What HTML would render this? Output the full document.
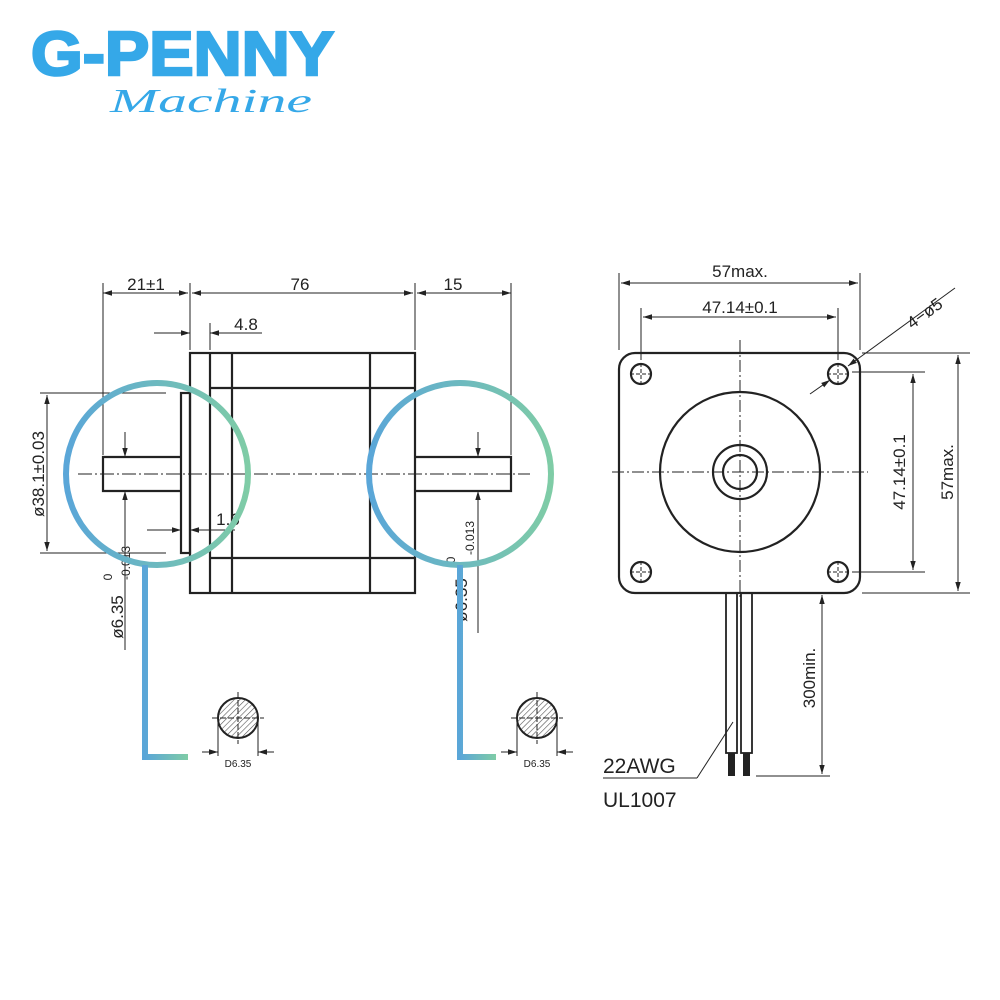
<!DOCTYPE html>
<html><head><meta charset="utf-8"><style>
html,body{margin:0;padding:0;background:#fff;width:1000px;height:1000px;overflow:hidden}
svg{display:block}
text{font-family:"Liberation Sans",sans-serif;fill:#222}
</style></head><body>
<svg width="1000" height="1000" viewBox="0 0 1000 1000" xmlns="http://www.w3.org/2000/svg">
<defs>
<linearGradient id="g" x1="0" x2="1" y1="0" y2="0"><stop offset="0" stop-color="#5aa6d8"/><stop offset="1" stop-color="#7fcca6"/></linearGradient>
<marker id="a" viewBox="0 0 10 10" refX="10" refY="5" markerWidth="9" markerHeight="9" orient="auto-start-reverse" markerUnits="userSpaceOnUse"><path d="M0,2 L10,5 L0,8z" fill="#222"/></marker>
<pattern id="h" width="4" height="4" patternUnits="userSpaceOnUse" patternTransform="rotate(45)"><rect width="4" height="4" fill="#fff"/><line x1="0" y1="0" x2="0" y2="4" stroke="#555" stroke-width="1.2"/></pattern>
</defs>
<text x="31" y="75" font-size="62" font-weight="bold" style="fill:#35a8e8;stroke:#35a8e8;stroke-width:2.5" textLength="303" lengthAdjust="spacingAndGlyphs">G-PENNY</text>
<text x="110" y="112" font-size="34" font-style="italic" style="fill:#35a8e8;font-family:'Liberation Serif',serif" textLength="202" lengthAdjust="spacingAndGlyphs">Machine</text>

<g stroke="#222" fill="none" stroke-width="2.2">
<rect x="190" y="353" width="225" height="240"/>
<line x1="210" y1="353" x2="210" y2="593"/>
<line x1="232" y1="353" x2="232" y2="593"/>
<line x1="370" y1="353" x2="370" y2="593"/>
<line x1="210" y1="388" x2="415" y2="388"/>
<line x1="210" y1="558" x2="415" y2="558"/>
<rect x="181" y="393" width="9" height="160"/>
<path d="M181,457 H103 V491 H181"/>
<path d="M415,457 H511 V491 H415"/>
</g>
<g stroke="#222" fill="none" stroke-width="1">
<line x1="78" y1="474" x2="530" y2="474" stroke-dasharray="14,3,2,3"/>
<line x1="103" y1="283" x2="103" y2="455"/>
<line x1="190" y1="283" x2="190" y2="350"/>
<line x1="415" y1="283" x2="415" y2="350"/>
<line x1="511" y1="283" x2="511" y2="455"/>
<line x1="103" y1="293" x2="188" y2="293" marker-start="url(#a)" marker-end="url(#a)"/>
<line x1="192" y1="293" x2="413" y2="293" marker-start="url(#a)" marker-end="url(#a)"/>
<line x1="417" y1="293" x2="511" y2="293" marker-start="url(#a)" marker-end="url(#a)"/>
<line x1="210" y1="323" x2="210" y2="350"/>
<line x1="154" y1="333" x2="190" y2="333" marker-end="url(#a)"/>
<line x1="262" y1="333" x2="210" y2="333" marker-end="url(#a)"/>
<line x1="40" y1="393" x2="166" y2="393"/>
<line x1="40" y1="553" x2="166" y2="553"/>
<line x1="47" y1="395" x2="47" y2="551" marker-start="url(#a)" marker-end="url(#a)"/>
<line x1="125" y1="432" x2="125" y2="457" marker-end="url(#a)"/>
<line x1="125" y1="650" x2="125" y2="491" marker-end="url(#a)"/>
<line x1="478" y1="432" x2="478" y2="457" marker-end="url(#a)"/>
<line x1="478" y1="633" x2="478" y2="491" marker-end="url(#a)"/>
<line x1="147" y1="530" x2="181" y2="530" marker-end="url(#a)"/>
<line x1="235" y1="530" x2="190" y2="530" marker-end="url(#a)"/>
</g>
<text x="146" y="290" font-size="17" text-anchor="middle">21±1</text>
<text x="300" y="290" font-size="17" text-anchor="middle">76</text>
<text x="453" y="290" font-size="17" text-anchor="middle">15</text>
<text x="246" y="330" font-size="17" text-anchor="middle">4.8</text>
<text x="228" y="525" font-size="17" text-anchor="middle">1.6</text>
<text transform="translate(44,474) rotate(-90)" font-size="17" text-anchor="middle">ø38.1±0.03</text>
<text transform="translate(123,617) rotate(-90)" font-size="17" text-anchor="middle">ø6.35</text>
<text transform="translate(112,577) rotate(-90)" font-size="12" text-anchor="middle">0</text>
<text transform="translate(130,563) rotate(-90)" font-size="12" text-anchor="middle">-0.013</text>
<text transform="translate(467,600) rotate(-90)" font-size="17" text-anchor="middle">ø6.35</text>
<text transform="translate(455,560) rotate(-90)" font-size="12" text-anchor="middle">0</text>
<text transform="translate(474,538) rotate(-90)" font-size="12" text-anchor="middle">-0.013</text>

<g fill="none" stroke="url(#g)" stroke-width="6">
<circle cx="157" cy="474" r="91"/>
<circle cx="460" cy="474" r="91"/>
</g>
<path d="M145,565 V757 H188" fill="none" stroke="url(#g)" stroke-width="6"/>
<path d="M460,565 V757 H496" fill="none" stroke="url(#g)" stroke-width="6"/>

<g stroke="#222" stroke-width="1">
<circle cx="238" cy="718" r="20" fill="url(#h)" stroke-width="2"/>
<line x1="212" y1="718" x2="264" y2="718" stroke-dasharray="6,2"/>
<line x1="238" y1="692" x2="238" y2="744" stroke-dasharray="6,2"/>
<line x1="218" y1="720" x2="218" y2="756"/><line x1="258" y1="720" x2="258" y2="756"/>
<line x1="202" y1="752" x2="218" y2="752" marker-end="url(#a)"/>
<line x1="274" y1="752" x2="258" y2="752" marker-end="url(#a)"/>
<circle cx="537" cy="718" r="20" fill="url(#h)" stroke-width="2"/>
<line x1="511" y1="718" x2="563" y2="718" stroke-dasharray="6,2"/>
<line x1="537" y1="692" x2="537" y2="744" stroke-dasharray="6,2"/>
<line x1="517" y1="720" x2="517" y2="756"/><line x1="557" y1="720" x2="557" y2="756"/>
<line x1="501" y1="752" x2="517" y2="752" marker-end="url(#a)"/>
<line x1="573" y1="752" x2="557" y2="752" marker-end="url(#a)"/>
</g>
<text x="238" y="767" font-size="10" text-anchor="middle">D6.35</text>
<text x="537" y="767" font-size="10" text-anchor="middle">D6.35</text>

<g stroke="#222" fill="none" stroke-width="2.2">
<rect x="619" y="353" width="241" height="240" rx="16"/>
<circle cx="641" cy="374" r="10"/><circle cx="838" cy="374" r="10"/>
<circle cx="641" cy="572" r="10"/><circle cx="838" cy="572" r="10"/>
<circle cx="740" cy="472" r="80"/>
<circle cx="740" cy="472" r="27"/>
<circle cx="740" cy="472" r="17"/>
<rect x="726" y="593" width="11" height="160" stroke-width="1.8"/>
<rect x="741" y="593" width="11" height="160" stroke-width="1.8"/>
</g>
<rect x="728" y="753" width="7" height="23" fill="#222"/>
<rect x="743" y="753" width="7" height="23" fill="#222"/>
<g stroke="#222" fill="none" stroke-width="1">
<line x1="612" y1="472" x2="868" y2="472" stroke-dasharray="12,3,2,3"/>
<line x1="740" y1="340" x2="740" y2="600" stroke-dasharray="12,3,2,3"/>
<g stroke-dasharray="4,2">
<line x1="630" y1="374" x2="652" y2="374"/><line x1="641" y1="363" x2="641" y2="385"/>
<line x1="827" y1="374" x2="849" y2="374"/><line x1="838" y1="363" x2="838" y2="385"/>
<line x1="630" y1="572" x2="652" y2="572"/><line x1="641" y1="561" x2="641" y2="583"/>
<line x1="827" y1="572" x2="849" y2="572"/><line x1="838" y1="561" x2="838" y2="583"/>
</g>
<line x1="619" y1="273" x2="619" y2="350"/><line x1="860" y1="273" x2="860" y2="350"/>
<line x1="621" y1="283" x2="858" y2="283" marker-start="url(#a)" marker-end="url(#a)"/>
<line x1="641" y1="308" x2="641" y2="360"/><line x1="838" y1="308" x2="838" y2="360"/>
<line x1="643" y1="317" x2="836" y2="317" marker-start="url(#a)" marker-end="url(#a)"/>
<line x1="862" y1="353" x2="970" y2="353"/><line x1="862" y1="593" x2="970" y2="593"/>
<line x1="958" y1="355" x2="958" y2="591" marker-start="url(#a)" marker-end="url(#a)"/>
<line x1="852" y1="372" x2="925" y2="372"/><line x1="852" y1="572" x2="925" y2="572"/>
<line x1="913" y1="374" x2="913" y2="570" marker-start="url(#a)" marker-end="url(#a)"/>
<line x1="955" y1="288" x2="848" y2="366" marker-end="url(#a)"/>
<line x1="810" y1="394" x2="830" y2="380" marker-end="url(#a)"/>
<line x1="756" y1="776" x2="830" y2="776"/>
<line x1="822" y1="595" x2="822" y2="774" marker-start="url(#a)" marker-end="url(#a)"/>
<line x1="603" y1="778" x2="697" y2="778"/>
<line x1="697" y1="778" x2="733" y2="722"/>
</g>
<text x="740" y="277" font-size="17" text-anchor="middle">57max.</text>
<text x="740" y="313" font-size="17" text-anchor="middle">47.14±0.1</text>
<text transform="translate(905,472) rotate(-90)" font-size="17" text-anchor="middle">47.14±0.1</text>
<text transform="translate(953,472) rotate(-90)" font-size="17" text-anchor="middle">57max.</text>
<text transform="translate(815,678) rotate(-90)" font-size="17" text-anchor="middle">300min.</text>
<text transform="translate(928,318) rotate(-36)" font-size="17" text-anchor="middle">4−ø5</text>
<text x="603" y="773" font-size="21">22AWG</text>
<text x="603" y="807" font-size="21">UL1007</text>
</svg>
</body></html>
